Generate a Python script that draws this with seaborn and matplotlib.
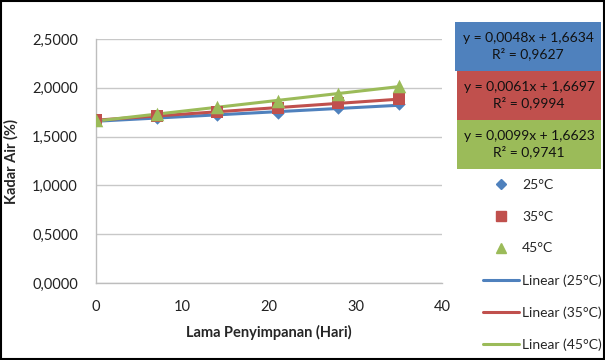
import numpy as np
import pandas as pd
import matplotlib
matplotlib.use("Agg")
import matplotlib.pyplot as plt
from matplotlib.lines import Line2D
from matplotlib.patches import Rectangle
from matplotlib.ticker import FuncFormatter, MultipleLocator
import seaborn as sns

# data
hari = [0, 7, 14, 21, 28, 35]
kadar_25 = [1.665, 1.69, 1.72, 1.74, 1.79, 1.83]
kadar_35 = [1.67, 1.71, 1.755, 1.795, 1.84, 1.885]
kadar_45 = [1.665, 1.73, 1.80, 1.86, 1.94, 2.02]
suhu = ["25°C", "35°C", "45°C"]
persamaan = ["y = 0,0048x + 1,6634\nR² = 0,9627",
             "y = 0,0061x + 1,6697\nR² = 0,9994",
             "y = 0,0099x + 1,6623\nR² = 0,9741"]

warna = {"25°C": "#4F81BD", "35°C": "#C0504D", "45°C": "#9BBB59"}
penanda = {"25°C": "D", "35°C": "s", "45°C": "^"}
ukuran = {"25°C": 40, "35°C": 85, "45°C": 95}

df = pd.DataFrame({
    "Hari": hari * 3,
    "Kadar": kadar_25 + kadar_35 + kadar_45,
    "Suhu": [s for s in suhu for _ in hari],
})

sns.set_style("white")
plt.rcParams["font.family"] = ["Lato", "DejaVu Sans"]

fig = plt.figure(figsize=(6.05, 3.6), dpi=100)
ax = fig.add_axes([96 / 605, 77 / 360, 346 / 605, 244 / 360])

for s in suhu:
    d = df[df["Suhu"] == s]
    sns.regplot(data=d, x="Hari", y="Kadar", ax=ax, scatter=False, ci=None,
                color=warna[s], line_kws={"lw": 2.2, "zorder": 3})
for s in suhu:
    d = df[df["Suhu"] == s]
    sns.scatterplot(data=d, x="Hari", y="Kadar", ax=ax, color=warna[s],
                    marker=penanda[s], s=ukuran[s], edgecolor=warna[s],
                    linewidth=0, zorder=4, legend=False)

ax.set_xlim(0, 40)
ax.set_ylim(0, 2.5)
ax.xaxis.set_major_locator(MultipleLocator(10))
ax.yaxis.set_major_locator(MultipleLocator(0.5))
ax.yaxis.set_major_formatter(FuncFormatter(lambda v, p: f"{v:.4f}".replace(".", ",")))
ax.grid(axis="y", color="#C8C8C8", lw=1)
ax.set_axisbelow(True)
for k in ["top", "right"]:
    ax.spines[k].set_visible(False)
for k in ["left", "bottom"]:
    ax.spines[k].set_color("#BDBDBD")
    ax.spines[k].set_linewidth(1)
ax.tick_params(axis="y", length=0, pad=13, labelsize=10.5, labelcolor="#222222")
ax.tick_params(axis="x", length=0, pad=12, labelsize=10.5, labelcolor="#222222")
ax.set_xlabel("Lama Penyimpanan (Hari)", fontsize=10.5, fontweight="bold", labelpad=8)
ax.set_ylabel("Kadar Air (%)", fontsize=10.5, fontweight="bold", labelpad=10)

# equation boxes
kotak = [(455, 22, 146, 49), (457, 71, 144, 49), (457, 120, 144, 49)]
for (x0, y0, w, h), s, teks in zip(kotak, suhu, persamaan):
    fig.patches.append(Rectangle((x0 / 605, 1 - (y0 + h) / 360), w / 605, h / 360,
                                 transform=fig.transFigure, facecolor=warna[s],
                                 edgecolor="none"))
    fig.text((x0 + w / 2) / 605, 1 - (y0 + h / 2) / 360, teks, ha="center",
             va="center", fontsize=10, color="#111111", linespacing=1.3)

# legend
handles = [Line2D([], [], ls="none", marker=penanda[s], color=warna[s],
                  markersize=5.5 if s == "25°C" else 7.5) for s in suhu]
handles += [Line2D([], [], color=warna[s], lw=2.2) for s in suhu]
labels = suhu + [f"Linear ({s})" for s in suhu]
fig.legend(handles, labels, loc="upper left", bbox_to_anchor=(483 / 605, 1 - 179 / 360),
           frameon=False, fontsize=10, labelspacing=1.42, handlelength=2.6,
           handletextpad=0.2, borderpad=0, borderaxespad=0)

# outer border
fig.patches.append(Rectangle((0.002, 0.004), 0.996, 0.992, transform=fig.transFigure,
                             fill=False, edgecolor="black", lw=1.5))

fig.savefig("out.png", dpi=100)
